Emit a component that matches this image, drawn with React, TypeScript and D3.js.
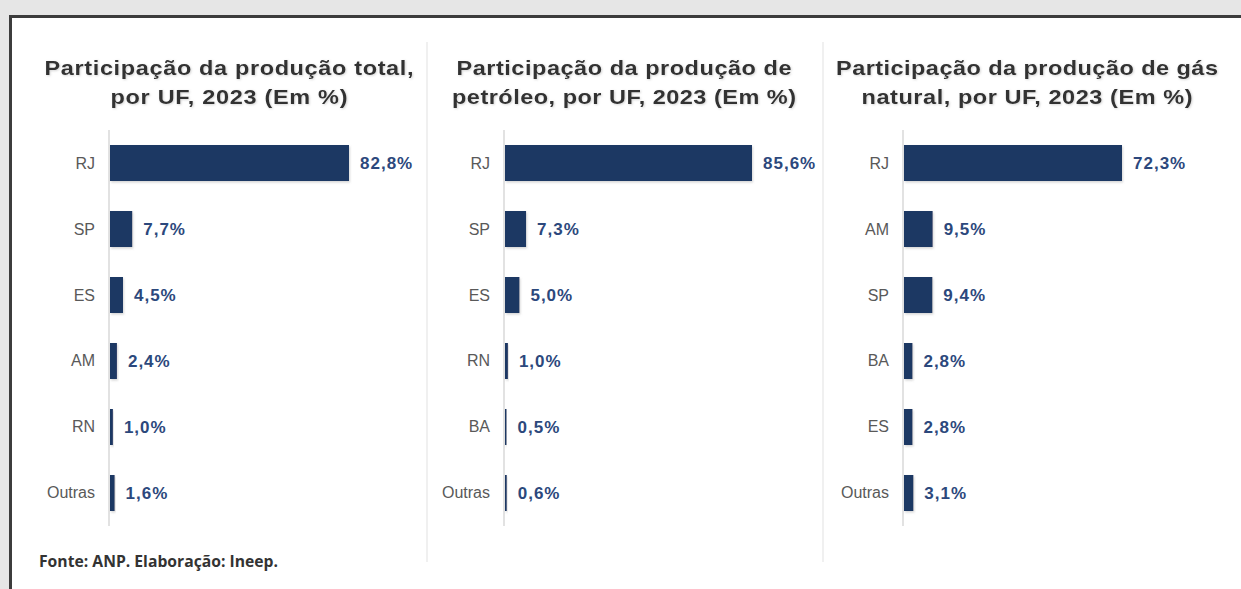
import React from "react";
import * as d3 from "d3";

// ---- Data ----
const totalCategories = ["RJ", "SP", "ES", "AM", "RN", "Outras"];
const totalValues = [82.8, 7.7, 4.5, 2.4, 1.0, 1.6];

const oilCategories = ["RJ", "SP", "ES", "RN", "BA", "Outras"];
const oilValues = [85.6, 7.3, 5.0, 1.0, 0.5, 0.6];

const gasCategories = ["RJ", "AM", "SP", "BA", "ES", "Outras"];
const gasValues = [72.3, 9.5, 9.4, 2.8, 2.8, 3.1];

const titles = [
  ["Participação da produção total,", "por UF, 2023 (Em %)"],
  ["Participação da produção de", "petróleo, por UF, 2023 (Em %)"],
  ["Participação da produção de gás", "natural, por UF, 2023 (Em %)"],
];

const sourceText = "Fonte: ANP. Elaboração: Ineep.";

// ---- Layout ----
const W = 1241;
const H = 589;
const panels = [
  { cats: totalCategories, vals: totalValues, axisX: 109, barW: 239, titleX: 229, tw: [369, 237] },
  { cats: oilCategories, vals: oilValues, axisX: 504, barW: 247, titleX: 624, tw: [335, 344] },
  { cats: gasCategories, vals: gasValues, axisX: 903, barW: 218, titleX: 1027, tw: [382, 331] },
];
const bandTop = 130;
const bandBottom = 526;
const barColor = "#1f3763";
const valueColor = "#2c487c";
const catColor = "#595959";
const titleColor = "#333333";
const titleStretch = 1.12;
const fmt = (v: number) => v.toFixed(1).replace(".", ",") + "%";

function Panel({ p, i }: { p: (typeof panels)[number]; i: number }) {
  const y = d3
    .scaleBand<string>()
    .domain(p.cats)
    .range([bandTop, bandBottom])
    .paddingInner(0.4545)
    .paddingOuter(0.2273);
  const maxV = d3.max(p.vals) as number;
  const x = d3.scaleLinear().domain([0, maxV]).range([p.axisX + 1, p.axisX + 1 + p.barW]);
  return (
    <g>
      {titles[i].map((t, j) => (
        <g key={j} transform={`translate(${p.titleX},${74.5 + j * 29.5}) scale(${titleStretch},1)`}>
          <text
            x={0}
            y={0}
            textAnchor="middle"
            fontFamily="'Liberation Sans', Arial, sans-serif"
            fontWeight="bold"
            fontSize={21}
            fill={titleColor}
            textLength={p.tw[j] / titleStretch}
            lengthAdjust="spacing"
            filter="url(#tshadow)"
          >
            {t}
          </text>
        </g>
      ))}
      <line x1={p.axisX} x2={p.axisX} y1={bandTop} y2={bandBottom} stroke="#d9d9d9" strokeWidth={1.5} />
      {p.cats.map((c, k) => {
        const yy = y(c) as number;
        const bw = y.bandwidth();
        const x1 = x(p.vals[k]);
        return (
          <g key={c}>
            <rect
              x={x(0)}
              y={yy}
              width={Math.max(1.5, x1 - x(0))}
              height={bw}
              fill={barColor}
              filter="url(#bshadow)"
            />
            <text
              x={p.axisX - 14}
              y={yy + bw / 2 + 5.5}
              textAnchor="end"
              fontFamily="'Liberation Sans', Arial, sans-serif"
              fontSize={16}
              fill={catColor}
            >
              {c}
            </text>
            <text
              x={Math.max(x1, x(0) + 1.5) + 11}
              y={yy + bw / 2 + 6}
              fontFamily="'Liberation Sans', Arial, sans-serif"
              fontWeight="bold"
              fontSize={17}
              letterSpacing={1}
              fill={valueColor}
            >
              {fmt(p.vals[k])}
            </text>
          </g>
        );
      })}
    </g>
  );
}

export default function App() {
  return (
    <svg
      width={W}
      height={H}
      viewBox={`0 0 ${W} ${H}`}
      style={{ position: "absolute", left: 0, top: 0, display: "block" }}
    >
      <defs>
        <filter id="tshadow" x="-5%" y="-30%" width="110%" height="160%">
          <feDropShadow dx={0.8} dy={0.8} stdDeviation={1} floodColor="#999" floodOpacity={0.45} />
        </filter>
        <filter id="bshadow" x="-20%" y="-20%" width="140%" height="140%">
          <feDropShadow dx={1} dy={1.5} stdDeviation={1} floodColor="#888" floodOpacity={0.35} />
        </filter>
      </defs>
      <rect x={0} y={0} width={W} height={H} fill="#e6e6e6" />
      <rect x={10.5} y={16.5} width={W + 20} height={H + 20} fill="#ffffff" stroke="#3c3c3c" strokeWidth={3} />
      <line x1={427} x2={427} y1={42} y2={562} stroke="#ebebeb" strokeWidth={1.5} />
      <line x1={823} x2={823} y1={42} y2={562} stroke="#ebebeb" strokeWidth={1.5} />
      {panels.map((p, i) => (
        <Panel key={i} p={p} i={i} />
      ))}
      <text
        x={39}
        y={567}
        fontFamily="'Open Sans', sans-serif"
        fontWeight="bold"
        fontSize={15.5}
        fill="#333333"
        textLength={239}
        lengthAdjust="spacingAndGlyphs"
      >
        {sourceText}
      </text>
    </svg>
  );
}
